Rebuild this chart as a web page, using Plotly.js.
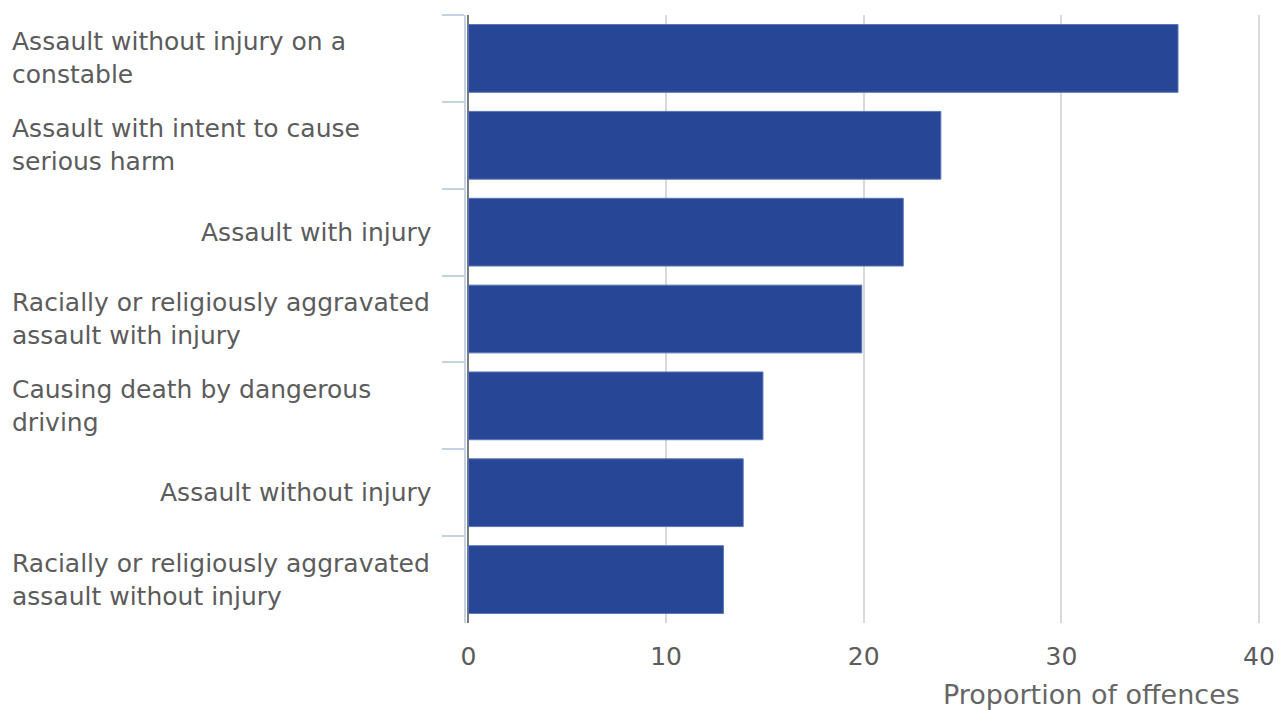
<!DOCTYPE html>
<html>
<head>
<meta charset="utf-8">
<script src="https://cdn.plot.ly/plotly-3.0.1.min.js"></script>
<style>
  html, body { margin: 0; padding: 0; background: #ffffff; }
  #chart { width: 1281px; height: 710px; }
</style>
</head>
<body>
<div id="chart"></div>
<script>
// Offence categories (top to bottom), wrapped as in the reference
const categories = [
  "Assault without injury on a<br>constable",
  "Assault with intent to cause<br>serious harm",
  "Assault with injury",
  "Racially or religiously aggravated<br>assault with injury",
  "Causing death by dangerous<br>driving",
  "Assault without injury",
  "Racially or religiously aggravated<br>assault without injury"
];
// Proportion of offences (%)
const proportions = [35.9, 23.9, 22.0, 19.9, 14.9, 13.9, 12.9];
// x-axis ticks
const xTickVals = [0, 10, 20, 30, 40];
const xTickText = ["0", "10", "20", "30", "40"];
const xAxisTitle = "Proportion of offences";

const textColor = "#5c5c5c";
const fontFamily = "DejaVu Sans, sans-serif";

const trace = {
  type: "bar",
  orientation: "h",
  x: proportions,
  y: categories,
  marker: {
    color: "#274796",
    line: { color: "#5a74b6", width: 1 }
  },
  hoverinfo: "x+y"
};

const labelAnnotations = categories.map(function (c) {
  const wrapped = c.indexOf("<br>") >= 0;
  return {
    xref: "paper", yref: "y",
    x: 0, y: c,
    xanchor: wrapped ? "left" : "right",
    align: "left",
    yanchor: "middle",
    xshift: wrapped ? -456 : -32,
    text: c,
    showarrow: false,
    font: { family: fontFamily, size: 25, color: textColor }
  };
});

labelAnnotations.push({
  xref: "paper", yref: "paper",
  x: 1, y: 0,
  xanchor: "right", yanchor: "middle",
  xshift: -20, yshift: -71,
  borderpad: 0,
  text: xAxisTitle,
  showarrow: false,
  font: { family: fontFamily, size: 27, color: "#666666" }
});

const layout = {
  width: 1281,
  height: 710,
  margin: { l: 466, r: 20, t: 15, b: 87, pad: 0 },
  paper_bgcolor: "#ffffff",
  plot_bgcolor: "#ffffff",
  showlegend: false,
  bargap: 0.22,
  font: { family: fontFamily, size: 25, color: textColor },
  xaxis: {
    range: [-0.125, 40.1],
    tickmode: "array",
    tickvals: xTickVals,
    ticktext: xTickText,
    showgrid: true,
    gridcolor: "#d9d9d9",
    gridwidth: 2,
    zeroline: true,
    zerolinecolor: "#7a7a7a",
    zerolinewidth: 2,
    showline: false,
    ticks: "",
    ticklabelstandoff: 16,
    tickfont: { family: fontFamily, size: 25, color: textColor },
    fixedrange: true
  },
  yaxis: {
    type: "category",
    categoryorder: "array",
    categoryarray: categories,
    autorange: "reversed",
    showticklabels: false,
    ticks: "outside",
    tickson: "boundaries",
    ticklen: 22,
    tickwidth: 2,
    tickcolor: "#c5d2e2",
    showline: true,
    linecolor: "#c5d2e2",
    linewidth: 2,
    showgrid: false,
    zeroline: false,
    fixedrange: true
  },
  annotations: labelAnnotations
};

Plotly.newPlot("chart", [trace], layout, { displayModeBar: false, staticPlot: true });
</script>
</body>
</html>
